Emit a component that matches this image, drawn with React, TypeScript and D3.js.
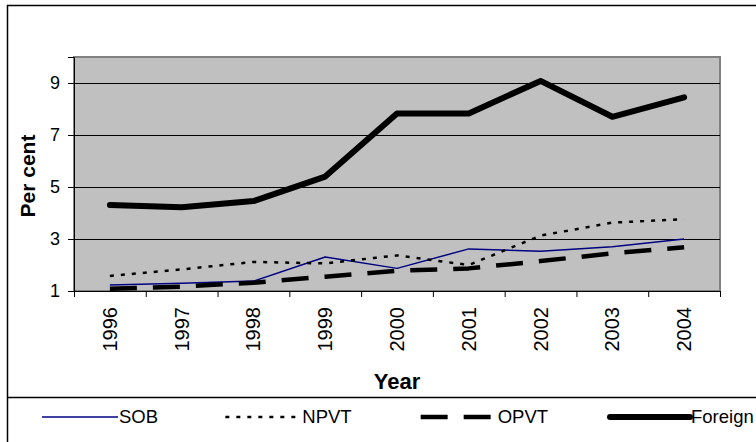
import React, { useRef, useEffect } from "react";
import * as d3 from "d3";

// Data
const years: string[] = ["1996", "1997", "1998", "1999", "2000", "2001", "2002", "2003", "2004"];
const sob: number[] = [1.23, 1.3, 1.38, 2.31, 1.87, 2.62, 2.53, 2.7, 3.0];
const npvt: number[] = [1.58, 1.83, 2.12, 2.06, 2.37, 2.0, 3.13, 3.63, 3.76];
const opvt: number[] = [1.09, 1.17, 1.32, 1.55, 1.78, 1.87, 2.15, 2.45, 2.68];
const foreign: number[] = [4.31, 4.22, 4.46, 5.4, 7.83, 7.83, 9.08, 7.7, 8.45];
const yTicks: number[] = [1, 3, 5, 7, 9];

interface Series {
  name: string;
  values: number[];
  color: string;
  width: number;
  dash: string | null;
  cap: string;
}

const series: Series[] = [
  { name: "SOB", values: sob, color: "#000080", width: 1.5, dash: null, cap: "butt" },
  { name: "NPVT", values: npvt, color: "#000", width: 2.5, dash: "4,7", cap: "butt" },
  { name: "OPVT", values: opvt, color: "#000", width: 4.5, dash: "27,16", cap: "butt" },
  { name: "Foreign", values: foreign, color: "#000", width: 6, dash: null, cap: "round" },
];

const FONT = "'Liberation Sans', Arial, sans-serif";

const App: React.FC = () => {
  const svgRef = useRef<SVGSVGElement | null>(null);

  useEffect(() => {
    const width = 756;
    const height = 442;
    const plot = { left: 74, right: 720, top: 57, bottom: 291 };

    const root = d3.select(svgRef.current);
    root.selectAll("*").remove();
    root.attr("width", width).attr("height", height);

    // chart frame
    root.append("rect").attr("width", width).attr("height", height).attr("fill", "#fff");
    root
      .append("path")
      .attr("d", `M7.5,${height} V5.5 H${width}`)
      .attr("fill", "none")
      .attr("stroke", "#000")
      .attr("stroke-width", 1.5);

    const x = d3.scaleBand<string>().domain(years).range([plot.left, plot.right]);
    const y = d3.scaleLinear().domain([1, 10]).range([plot.bottom, plot.top]);

    // plot area
    root
      .append("rect")
      .attr("x", plot.left)
      .attr("y", plot.top)
      .attr("width", plot.right - plot.left)
      .attr("height", plot.bottom - plot.top)
      .attr("fill", "#c0c0c0")
      .attr("stroke", "#808080")
      .attr("stroke-width", 2);

    // gridlines
    root
      .append("g")
      .selectAll("line")
      .data(yTicks.filter((t) => t > 1))
      .join("line")
      .attr("x1", plot.left)
      .attr("x2", plot.right)
      .attr("y1", (d) => y(d) + 0.5)
      .attr("y2", (d) => y(d) + 0.5)
      .attr("stroke", "#000")
      .attr("stroke-width", 1);

    // y axis
    const yAxis = root
      .append("g")
      .attr("transform", `translate(${plot.left},0)`)
      .call(d3.axisLeft(y).tickValues(yTicks).tickSize(6).tickPadding(8).tickFormat(d3.format("d")));
    yAxis.select(".domain").attr("stroke", "#000");
    yAxis.selectAll("line").attr("stroke", "#000");
    yAxis
      .selectAll("text")
      .attr("font-family", FONT)
      .attr("font-size", 18)
      .attr("fill", "#000");

    // x axis
    const xAxis = root
      .append("g")
      .attr("transform", `translate(0,${plot.bottom})`)
      .call(d3.axisBottom(x).tickSize(0).tickPadding(0));
    xAxis.select(".domain").remove();
    xAxis
      .append("line")
      .attr("x1", plot.left)
      .attr("x2", plot.right)
      .attr("y1", 0.5)
      .attr("y2", 0.5)
      .attr("stroke", "#000");
    xAxis
      .selectAll(".bound")
      .data([...years.map((d) => x(d) as number), plot.right])
      .join("line")
      .attr("x1", (d) => d + 0.5)
      .attr("x2", (d) => d + 0.5)
      .attr("y1", 0)
      .attr("y2", 6)
      .attr("stroke", "#000");
    xAxis
      .selectAll(".tick text")
      .attr("font-family", FONT)
      .attr("font-size", 20)
      .attr("fill", "#000")
      .attr("text-anchor", "end")
      .attr("transform", "rotate(-90)")
      .attr("x", -16)
      .attr("y", 0)
      .attr("dy", "0.35em");

    // axis titles
    root
      .append("text")
      .attr("transform", `translate(35,176) rotate(-90)`)
      .attr("text-anchor", "middle")
      .attr("font-family", FONT)
      .attr("font-weight", "bold")
      .attr("font-size", 21)
      .text("Per cent");
    root
      .append("text")
      .attr("x", (plot.left + plot.right) / 2)
      .attr("y", 389)
      .attr("text-anchor", "middle")
      .attr("font-family", FONT)
      .attr("font-weight", "bold")
      .attr("font-size", 22)
      .text("Year");

    // lines
    const line = d3
      .line<number>()
      .x((_, i) => (x(years[i]) as number) + x.bandwidth() / 2)
      .y((d) => y(d));

    root
      .append("g")
      .selectAll("path")
      .data(series)
      .join("path")
      .attr("d", (s) => line(s.values))
      .attr("fill", "none")
      .attr("stroke", (s) => s.color)
      .attr("stroke-width", (s) => s.width)
      .attr("stroke-dasharray", (s) => s.dash)
      .attr("stroke-linecap", (s) => s.cap)
      .attr("stroke-linejoin", "round");

    // legend
    root
      .append("line")
      .attr("x1", 7)
      .attr("x2", width)
      .attr("y1", 397.5)
      .attr("y2", 397.5)
      .attr("stroke", "#000")
      .attr("stroke-width", 1.5);

    const legendX = d3.scalePoint<string>().domain(series.map((s) => s.name)).range([42, 610]);
    const ly = 417;
    const item = root
      .append("g")
      .selectAll("g")
      .data(series)
      .join("g")
      .attr("transform", (s) => `translate(${(legendX(s.name) as number) - (s.name === "NPVT" ? 6 : 0)},${ly})`);
    item
      .append("line")
      .attr("x1", 0)
      .attr("x2", (s) => (s.name === "Foreign" ? 80 : s.name === "OPVT" ? 74 : 76))
      .attr("stroke", (s) => s.color)
      .attr("stroke-width", (s) => s.width)
      .attr("stroke-dasharray", (s) => s.dash)
      .attr("stroke-linecap", (s) => s.cap);
    item
      .append("text")
      .attr("x", (s) => (s.name === "Foreign" ? 81 : 77))
      .attr("dy", "0.35em")
      .attr("font-family", FONT)
      .attr("font-size", 18.5)
      .text((s) => s.name);
  }, []);

  return (
    <svg
      ref={svgRef}
      style={{ position: "absolute", left: 0, top: 0, display: "block" }}
    ></svg>
  );
};

export default App;
